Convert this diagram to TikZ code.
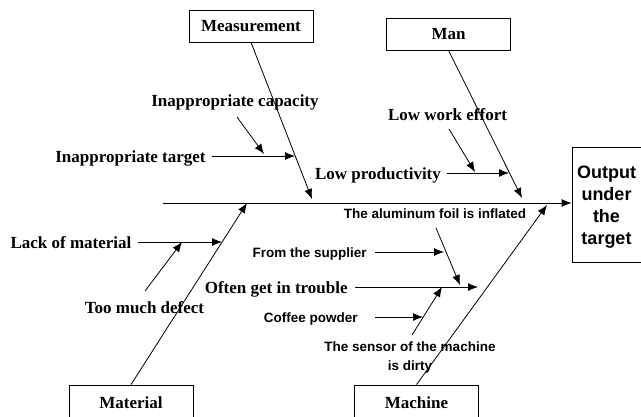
\documentclass[tikz,border=0pt]{standalone}
\usepackage{fontspec}
\setmainfont{Liberation Serif}
\setsansfont{Liberation Sans}
\usetikzlibrary{arrows.meta}
\tikzset{
  >={Latex[length=10pt,width=8pt]},
}
\tikzstyle{catbox}=[draw,minimum width=124pt,minimum height=32pt,font=\fontsize{17}{19}\selectfont\bfseries]
\tikzstyle{cause}=[inner sep=0pt,text height=14pt,text depth=2pt,font=\fontsize{17}{19}\selectfont\bfseries]
\tikzstyle{subcause}=[inner sep=0pt,text height=13pt,text depth=2pt,font=\sffamily\bfseries\fontsize{13.5}{19}\selectfont]

\begin{document}
\begin{tikzpicture}[x=1pt,y=-1pt,line width=0.8pt]
    \useasboundingbox (0,0) rectangle (641,416);
    % category boxes
    \node[catbox] (meas) at (251,26) {Measurement};
    \node[catbox] (man) at (448.5,34) {Man};
    \node[catbox,minimum height=36pt] (mat) at (131,403) {Material};
    \node[catbox,minimum height=36pt] (mach) at (416.5,403) {Machine};
    \node[draw,minimum width=73pt,minimum height=115pt] (out) at (608.5,204.5) {};
    \node[align=center,inner sep=0pt,font=\sffamily\bfseries\fontsize{18}{22}\selectfont] (outtxt)
      at ([xshift=-2pt,yshift=-3pt]out.center) {Output\\under\\the\\target};
    % spine and bones
    \coordinate (tail) at (163,203);
    \draw[->] (tail) -- (tail -| out.west);
    \coordinate (measend) at (312,199);
    \coordinate (manend) at (522,198);
    \coordinate (matend) at (247,203);
    \coordinate (machend) at (547,205);
    \draw[->] (meas.south) -- (measend);
    \draw[->] (man.south) -- (manend);
    \draw[->] (mat.north) -- (matend);
    \draw[->] (mach.north) -- (machend);
    % measurement
    \node[cause] (target) at (130.5,156) {Inappropriate target};
    \node[cause] (capa) at (235,100) {Inappropriate capacity};
    \coordinate (targetend) at (295,156);
    \coordinate (capatail) at (237,117);
    \coordinate (capaend) at (264,154);
    \draw[->] ([xshift=6pt]target.east) -- (targetend);
    \draw[->] (capatail) -- (capaend);
    % man
    \node[cause] (prod) at (378,173) {Low productivity};
    \node[cause] (effort) at (447.5,114) {Low work effort};
    \coordinate (prodend) at (509,173);
    \coordinate (efforttail) at (449,129);
    \coordinate (effortend) at (475,172);
    \draw[->] ([xshift=6pt]prod.east) -- (prodend);
    \draw[->] (efforttail) -- (effortend);
    % material
    \node[cause] (lack) at (71,242) {Lack of material};
    \node[cause] (defect) at (144.5,307) {Too much defect};
    \coordinate (lackend) at (222,242);
    \coordinate (defecttail) at (145,291);
    \coordinate (defectend) at (182,242);
    \draw[->] ([xshift=6pt]lack.east) -- (lackend);
    \draw[->] (defecttail) -- (defectend);
    % machine
    \node[subcause] (foil) at (435,213) {The aluminum foil is inflated};
    \node[subcause,anchor=east] (supp) at (367,252) {From the supplier};
    \node[cause,anchor=east] (trouble) at (348,287) {Often get in trouble};
    \node[subcause,anchor=east] (coffee) at (358,317) {Coffee powder};
    \node[align=center,inner sep=0pt,font=\sffamily\bfseries\fontsize{13.5}{19}\selectfont] (sensor)
      at (410,358) {The sensor of the machine\\is dirty};
    \coordinate (foiltail) at (436,228);
    \coordinate (foilend) at (460,285);
    \coordinate (suppend) at (444,252);
    \coordinate (troubleend) at (478,287);
    \coordinate (coffeeend) at (423,317);
    \coordinate (sensortail) at (412,335);
    \coordinate (sensorend) at (442,287);
    \draw[->] (foiltail) -- (foilend);
    \draw[->] ([xshift=8pt]supp.east) -- (suppend);
    \draw[->] ([xshift=7pt]trouble.east) -- (troubleend);
    \draw[->] ([xshift=17pt]coffee.east) -- (coffeeend);
    \draw[->] (sensortail) -- (sensorend);
\end{tikzpicture}
\end{document}
